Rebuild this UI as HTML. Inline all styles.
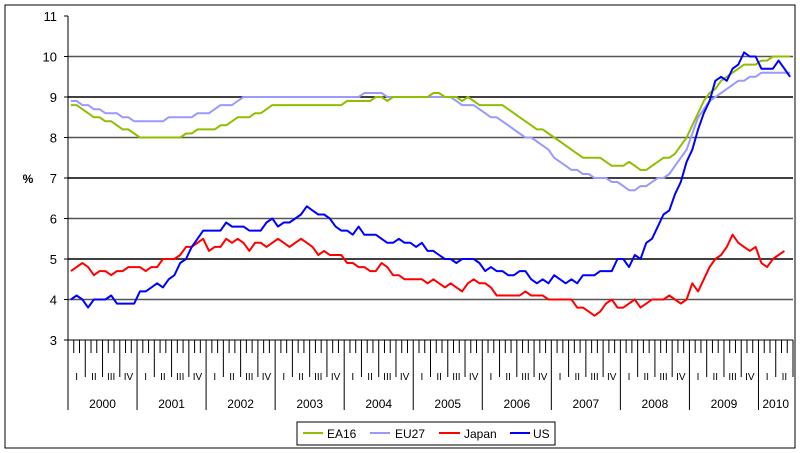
<!DOCTYPE html>
<html><head><meta charset="utf-8">
<style>
html,body{margin:0;padding:0;background:#fff;}
svg{display:block;font-family:"Liberation Sans",Arial,sans-serif;}
</style></head>
<body>
<svg id="chart" width="800" height="453" viewBox="0 0 800 453">
<rect x="5" y="5" width="790" height="443" fill="#fff" stroke="#000" stroke-width="1"/>
<g id="grid"></g>
<g id="yaxis"></g>
<g id="xaxis"></g>
<g id="series"></g>
<text x="28" y="183" font-size="12" font-weight="bold" text-anchor="middle">%</text>
<g>
<rect x="297" y="422" width="258" height="23" fill="#fff" stroke="#000" stroke-width="1"/>
<g><line x1="303" y1="433" x2="323" y2="433" stroke="#8fbf00" stroke-width="2"/><text x="327" y="438" font-size="12">EA16</text></g>
<g><line x1="370" y1="433" x2="390" y2="433" stroke="#9999ff" stroke-width="2"/><text x="395" y="438" font-size="12">EU27</text></g>
<g><line x1="439" y1="433" x2="460" y2="433" stroke="#ff0000" stroke-width="2"/><text x="464" y="438" font-size="12">Japan</text></g>
<g><line x1="510" y1="433" x2="530" y2="433" stroke="#0000ff" stroke-width="2"/><text x="533" y="438" font-size="12">US</text></g>
</g>
</svg>
<script>
const years = ["2000","2001","2002","2003","2004","2005","2006","2007","2008","2009","2010"];
const quarters = ["I","II","III","IV"];
const yTicks = [3,4,5,6,7,8,9,10,11];
const ea16 = [8.8,8.8,8.7,8.6,8.5,8.5,8.4,8.4,8.3,8.2,8.2,8.1,
8.0,8.0,8.0,8.0,8.0,8.0,8.0,8.0,8.1,8.1,8.2,8.2,
8.2,8.2,8.3,8.3,8.4,8.5,8.5,8.5,8.6,8.6,8.7,8.8,
8.8,8.8,8.8,8.8,8.8,8.8,8.8,8.8,8.8,8.8,8.8,8.8,
8.9,8.9,8.9,8.9,8.9,9.0,9.0,8.9,9.0,9.0,9.0,9.0,
9.0,9.0,9.0,9.1,9.1,9.0,9.0,9.0,8.9,9.0,8.9,8.8,
8.8,8.8,8.8,8.8,8.7,8.6,8.5,8.4,8.3,8.2,8.2,8.1,
8.0,7.9,7.8,7.7,7.6,7.5,7.5,7.5,7.5,7.4,7.3,7.3,
7.3,7.4,7.3,7.2,7.2,7.3,7.4,7.5,7.5,7.6,7.8,8.0,
8.3,8.6,8.9,9.1,9.2,9.4,9.5,9.6,9.7,9.8,9.8,9.8,
9.9,9.9,10.0,10.0,10.0,10.0];
const eu27 = [8.9,8.9,8.8,8.8,8.7,8.7,8.6,8.6,8.6,8.5,8.5,8.4,
8.4,8.4,8.4,8.4,8.4,8.5,8.5,8.5,8.5,8.5,8.6,8.6,
8.6,8.7,8.8,8.8,8.8,8.9,9.0,9.0,9.0,9.0,9.0,9.0,
9.0,9.0,9.0,9.0,9.0,9.0,9.0,9.0,9.0,9.0,9.0,9.0,
9.0,9.0,9.0,9.1,9.1,9.1,9.1,9.0,9.0,9.0,9.0,9.0,
9.0,9.0,9.0,9.0,9.0,9.0,9.0,8.9,8.8,8.8,8.8,8.7,
8.6,8.5,8.5,8.4,8.3,8.2,8.1,8.0,8.0,7.9,7.8,7.7,
7.5,7.4,7.3,7.2,7.2,7.1,7.1,7.0,7.0,7.0,6.9,6.9,
6.8,6.7,6.7,6.8,6.8,6.9,7.0,7.0,7.1,7.3,7.5,7.7,
8.1,8.5,8.7,8.9,9.0,9.1,9.2,9.3,9.4,9.4,9.5,9.5,
9.6,9.6,9.6,9.6,9.6,9.6];
const japan = [4.7,4.8,4.9,4.8,4.6,4.7,4.7,4.6,4.7,4.7,4.8,4.8,
4.8,4.7,4.8,4.8,5.0,5.0,5.0,5.1,5.3,5.3,5.4,5.5,
5.2,5.3,5.3,5.5,5.4,5.5,5.4,5.2,5.4,5.4,5.3,5.4,
5.5,5.4,5.3,5.4,5.5,5.4,5.3,5.1,5.2,5.1,5.1,5.1,
4.9,4.9,4.8,4.8,4.7,4.7,4.9,4.8,4.6,4.6,4.5,4.5,
4.5,4.5,4.4,4.5,4.4,4.3,4.4,4.3,4.2,4.4,4.5,4.4,
4.4,4.3,4.1,4.1,4.1,4.1,4.1,4.2,4.1,4.1,4.1,4.0,
4.0,4.0,4.0,4.0,3.8,3.8,3.7,3.6,3.7,3.9,4.0,3.8,
3.8,3.9,4.0,3.8,3.9,4.0,4.0,4.0,4.1,4.0,3.9,4.0,
4.4,4.2,4.5,4.8,5.0,5.1,5.3,5.6,5.4,5.3,5.2,5.3,
4.9,4.8,5.0,5.1,5.2];
const us = [4.0,4.1,4.0,3.8,4.0,4.0,4.0,4.1,3.9,3.9,3.9,3.9,
4.2,4.2,4.3,4.4,4.3,4.5,4.6,4.9,5.0,5.3,5.5,5.7,
5.7,5.7,5.7,5.9,5.8,5.8,5.8,5.7,5.7,5.7,5.9,6.0,
5.8,5.9,5.9,6.0,6.1,6.3,6.2,6.1,6.1,6.0,5.8,5.7,
5.7,5.6,5.8,5.6,5.6,5.6,5.5,5.4,5.4,5.5,5.4,5.4,
5.3,5.4,5.2,5.2,5.1,5.0,5.0,4.9,5.0,5.0,5.0,4.9,
4.7,4.8,4.7,4.7,4.6,4.6,4.7,4.7,4.5,4.4,4.5,4.4,
4.6,4.5,4.4,4.5,4.4,4.6,4.6,4.6,4.7,4.7,4.7,5.0,
5.0,4.8,5.1,5.0,5.4,5.5,5.8,6.1,6.2,6.6,6.9,7.4,
7.7,8.2,8.6,8.9,9.4,9.5,9.4,9.7,9.8,10.1,10.0,10.0,
9.7,9.7,9.7,9.9,9.7,9.5];

const NS="http://www.w3.org/2000/svg";
const X0=68, X1=793, MW=(X1-X0)/126, YB=340, YT=16;
function yScale(v){return YB-(v-3)*(YB-YT)/8;}
function xMonth(i){return X0+MW*(i+0.5);}
function xEdge(i){return X0+MW*i;}
function mk(tag,attrs,parent){const e=document.createElementNS(NS,tag);for(const k in attrs)e.setAttribute(k,attrs[k]);parent.appendChild(e);return e;}

const grid=document.getElementById('grid'), yax=document.getElementById('yaxis'), xax=document.getElementById('xaxis'), ser=document.getElementById('series');
yTicks.forEach(v=>{
  const y=yScale(v);
  if(v>3&&v<11){const l=mk('line',{x1:X0,x2:X1,y1:y,y2:y,stroke:(v%2===1)?'#000':'#555','stroke-width':1.5},grid);
  
  }
  mk('line',{x1:X0-4,x2:X0,y1:y,y2:y,stroke:'#000'},yax);
  const t=mk('text',{x:X0-11,y:y+5,'font-size':13,'text-anchor':'end'},yax);
  t.textContent=v;
  
  
});
mk('line',{x1:X0,x2:X0,y1:YT,y2:YB,stroke:'#000'},yax);
mk('line',{x1:X0,x2:X1,y1:YB,y2:YB,stroke:'#000'},xax);
const nMonths=126;
for(let i=0;i<=nMonths;i++){
  const x=xEdge(i);
  let y2=353;
  if(i%3===0)y2=377;
  if(i%12===0)y2=410;
  if(i===nMonths)y2=377;
  mk('line',{x1:x,x2:x,y1:YB,y2:y2,stroke:'#000','stroke-width':1},xax);
}
for(let q=0;q<42;q++){
  const t=mk('text',{x:xEdge(q*3+1.5),y:380,'font-size':10,'text-anchor':'middle'},xax);
  t.textContent=quarters[q%4];
  
  
}
years.forEach((yr,k)=>{
  const span=Math.min(12,nMonths-k*12);
  const t=mk('text',{x:xEdge(k*12+span/2),y:408,'font-size':12,'text-anchor':'middle'},xax);
  t.textContent=yr;
  
  
});
function line(data,color,name){
  const pts=data.map((v,i)=>xMonth(i).toFixed(1)+','+yScale(v).toFixed(1)).join(' ');
  const p=mk('polyline',{points:pts,fill:'none',stroke:color,'stroke-width':2,'stroke-linejoin':'round'},ser);
  
  
}
line(eu27,'#9999ff','series-eu27');
line(ea16,'#8fbf00','series-ea16');
line(japan,'#ff0000','series-japan');
line(us,'#0000ff','series-us');
</script>
</body></html>
